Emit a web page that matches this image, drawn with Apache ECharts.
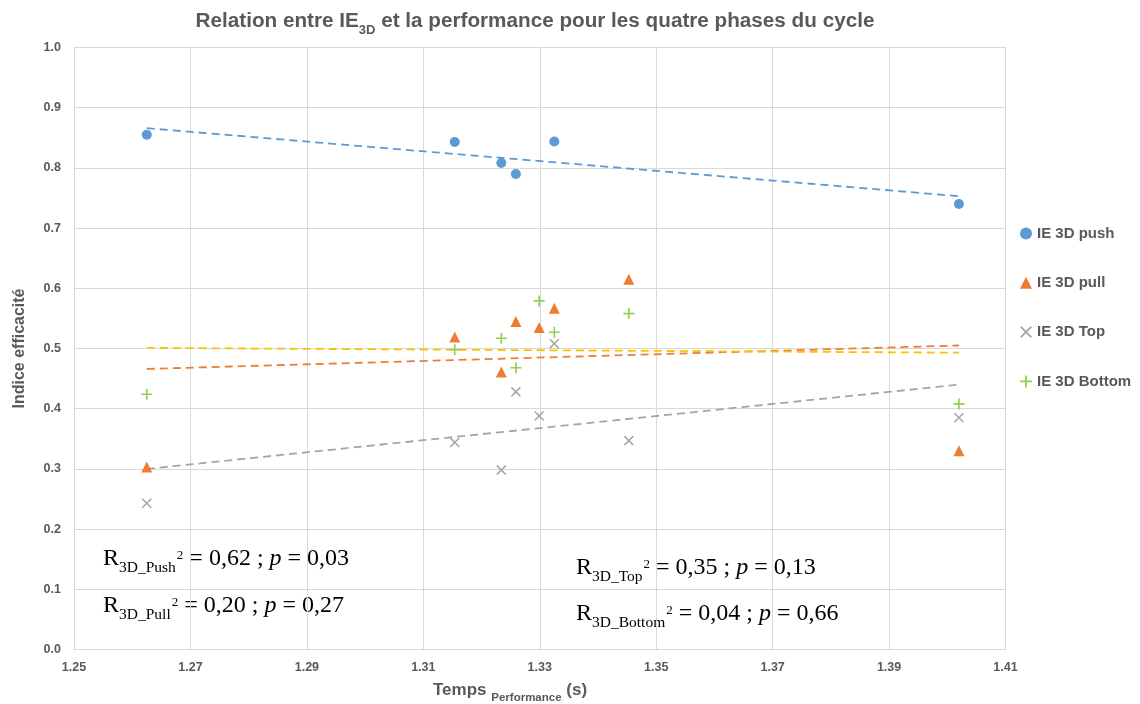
<!DOCTYPE html>
<html>
<head>
<meta charset="utf-8">
<script src="https://cdn.jsdelivr.net/npm/echarts@6/dist/echarts.min.js"></script>
<style>
  html, body { margin: 0; padding: 0; background: #fff; }
  #chart { width: 1140px; height: 704px; }
</style>
</head>
<body>
<div id="chart"></div>
<script>
// temps de performance (s) pour chaque essai
const times = [1.2625, 1.3154, 1.3234, 1.3259, 1.3299, 1.3325, 1.3453, 1.4020];
// indices d'efficacité par phase (null = pas de point)
const pushVals   = [0.855, 0.843, 0.808, 0.790, null,  0.844, null,  0.740];
const pullVals   = [0.303, 0.519, 0.461, 0.545, 0.535, 0.567, 0.615, 0.330];
const topVals    = [0.243, 0.344, 0.298, 0.428, 0.388, 0.508, 0.347, 0.385];
const bottomVals = [0.424, 0.498, 0.517, 0.468, 0.579, 0.527, 0.558, 0.408];

// courbes de tendance (début / fin)
const trendX      = [1.2625, 1.4020];
const trendPush   = [0.866, 0.753];
const trendPull   = [0.466, 0.505];
const trendTop    = [0.300, 0.440];
const trendBottom = [0.501, 0.493];

const seriesNames = ['IE 3D push', 'IE 3D pull', 'IE 3D Top', 'IE 3D Bottom'];
const xTicks = { min: 1.25, max: 1.41, step: 0.02 };
const yTicks = { min: 0, max: 1, step: 0.1 };

// textes des R²
const statsLeft  = [['3D_Push', '0,62', '0,03'], ['3D_Pull', '0,20', '0,27']];
const statsRight = [['3D_Top', '0,35', '0,13'], ['3D_Bottom', '0,04', '0,66']];

const SANS = '"Liberation Sans", Arial, sans-serif';
const SERIF = '"Liberation Serif", "Times New Roman", serif';
const GREY = '#595959';

const PLUS = 'path://M4.25,0H5.75V4.25H10V5.75H5.75V10H4.25V5.75H0V4.25H4.25Z';
const CROSS = 'path://M0,1.06L1.06,0L5,3.94L8.94,0L10,1.06L6.06,5L10,8.94L8.94,10L5,6.06L1.06,10L0,8.94L3.94,5Z';

const pts = vals => times.map((t, i) => [t, vals[i]]).filter(p => p[1] != null);
const line = vals => trendX.map((t, i) => [t, vals[i]]);

function scatter(name, vals, color, symbol, size) {
  return {
    name, type: 'scatter', data: pts(vals), symbol, symbolSize: size,
    itemStyle: { color, opacity: 1 }, z: 3
  };
}
function trend(vals, color) {
  return {
    type: 'line', data: line(vals), showSymbol: false, symbol: 'none', silent: true,
    lineStyle: { color, width: 1.8, type: [8, 5] }, z: 2
  };
}

const rich = {
  m: { fontFamily: SERIF, fontSize: 24, lineHeight: 27, verticalAlign: 'top', color: '#000' },
  i: { fontFamily: SERIF, fontSize: 24, lineHeight: 27, verticalAlign: 'top', color: '#000', fontStyle: 'italic' },
  s: { fontFamily: SERIF, fontSize: 15.5, lineHeight: 16, padding: [13, 0, 0, 0], verticalAlign: 'top', color: '#000' },
  u: { fontFamily: SERIF, fontSize: 13, lineHeight: 13, padding: [2, 0, 0, 1], verticalAlign: 'top', color: '#000' }
};
const statText = s => `{m|R}{s|${s[0]}}{u|2}{m| = ${s[1]} ; }{i|p}{m| = ${s[2]}}`;

const chart = echarts.init(document.getElementById('chart'));
chart.setOption({
  animation: false,
  backgroundColor: '#fff',
  grid: { left: 74, right: 134.5, top: 47.5, bottom: 54.5 },
  xAxis: {
    type: 'value', min: xTicks.min, max: xTicks.max, interval: xTicks.step,
    axisLine: { show: true, lineStyle: { color: '#D9D9D9' } },
    axisTick: { show: false },
    axisLabel: { margin: 12, color: GREY, fontFamily: SANS, fontSize: 12.5, fontWeight: 'bold',
                 formatter: v => v.toFixed(2) },
    splitLine: { show: true, lineStyle: { color: '#D9D9D9' } }
  },
  yAxis: {
    type: 'value', min: yTicks.min, max: yTicks.max, interval: yTicks.step,
    name: 'Indice efficacité', nameLocation: 'middle', nameGap: 46,
    nameTextStyle: { color: GREY, fontFamily: SANS, fontSize: 16, fontWeight: 'bold' },
    axisLine: { show: true, lineStyle: { color: '#D9D9D9' } },
    axisTick: { show: false },
    axisLabel: { margin: 13, color: GREY, fontFamily: SANS, fontSize: 12.5, fontWeight: 'bold',
                 formatter: v => v.toFixed(1) },
    splitLine: { show: true, lineStyle: { color: '#D9D9D9' } }
  },
  legend: {
    data: seriesNames, orient: 'vertical', left: 1015, top: 221,
    itemWidth: 12, itemHeight: 12, itemGap: 34.3,
    textStyle: { color: GREY, fontFamily: SANS, fontSize: 15, fontWeight: 'bold' }
  },
  graphic: [
    {
      type: 'text', x: 535, y: 11, style: {
        text: '{a|Relation entre IE}{b|3D}{a| et la performance pour les quatre phases du cycle}',
        align: 'center', fill: GREY,
        rich: {
          a: { fontFamily: SANS, fontSize: 20.7, fontWeight: 'bold', fill: GREY, color: GREY, lineHeight: 24, verticalAlign: 'top' },
          b: { fontFamily: SANS, fontSize: 13, fontWeight: 'bold', fill: GREY, color: GREY, lineHeight: 13, padding: [13, 0, 0, 0], verticalAlign: 'top' }
        }
      }
    },
    {
      type: 'text', x: 433, y: 682, style: {
        text: '{a|Temps }{b|Performance}{a| (s)}',
        fill: GREY,
        rich: {
          a: { fontFamily: SANS, fontSize: 17, fontWeight: 'bold', fill: GREY, color: GREY, lineHeight: 20, verticalAlign: 'top' },
          b: { fontFamily: SANS, fontSize: 11.5, fontWeight: 'bold', fill: GREY, color: GREY, lineHeight: 12, padding: [10, 0, 0, 0], verticalAlign: 'top' }
        }
      }
    },
    { type: 'text', x: 103, y: 547, style: { text: statText(statsLeft[0]), rich } },
    { type: 'text', x: 103, y: 594, style: { text: statText(statsLeft[1]), rich } },
    { type: 'text', x: 576, y: 556, style: { text: statText(statsRight[0]), rich } },
    { type: 'text', x: 576, y: 602, style: { text: statText(statsRight[1]), rich } }
  ],
  series: [
    trend(trendPush, '#5B9BD5'),
    trend(trendPull, '#ED7D31'),
    trend(trendTop, '#A5A5A5'),
    trend(trendBottom, '#FFC000'),
    scatter(seriesNames[0], pushVals, '#5B9BD5', 'circle', 10),
    scatter(seriesNames[1], pullVals, '#ED7D31', 'triangle', 11),
    scatter(seriesNames[2], topVals, '#A5A5A5', CROSS, 10),
    scatter(seriesNames[3], bottomVals, '#92D050', PLUS, 11)
  ]
});
</script>
</body>
</html>
